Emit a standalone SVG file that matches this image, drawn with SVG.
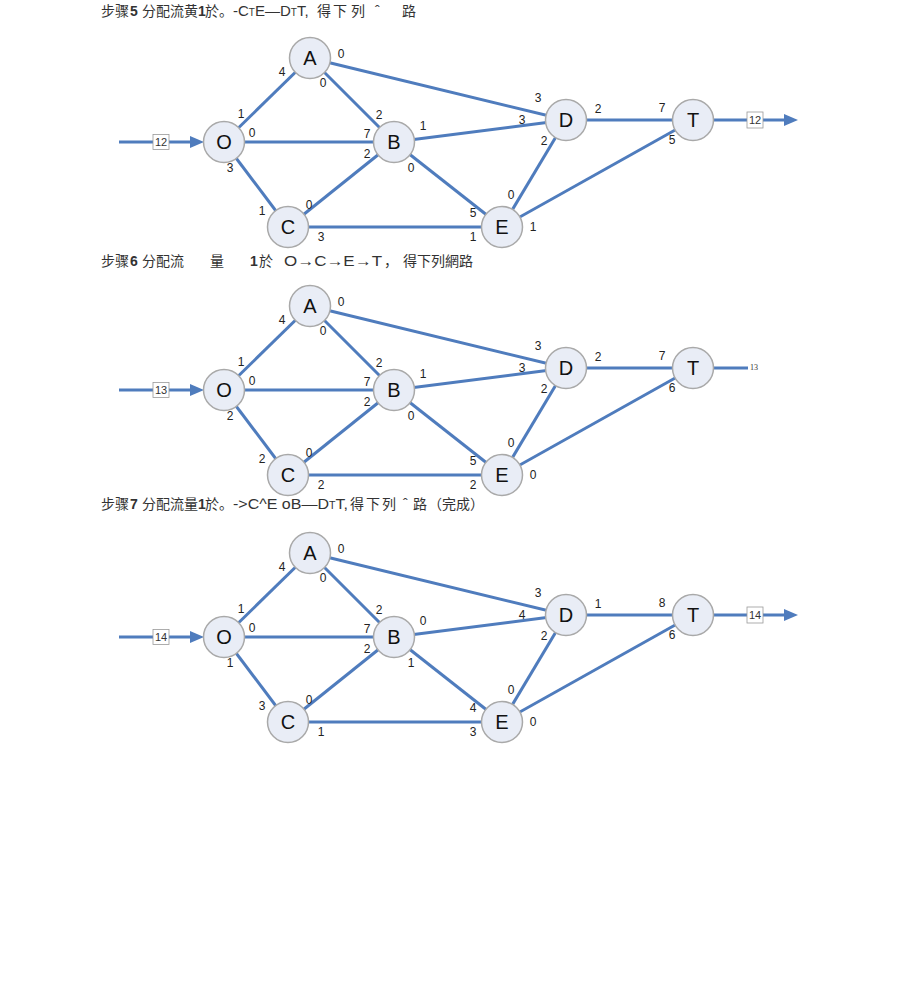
<svg xmlns="http://www.w3.org/2000/svg" width="920" height="997" viewBox="0 0 920 997">
<style>
.bg{fill:#ffffff}
.e{stroke:#4f7cbd;stroke-width:3;fill:none;stroke-linecap:butt}
.n circle{fill:#e9edf6;stroke:#a9a9a9;stroke-width:1.5}
.n text{font-family:"Liberation Sans",Arial,sans-serif;font-size:20px;fill:#111;text-anchor:middle}
.l{font-family:"Liberation Sans",Arial,sans-serif;font-size:12px;fill:#222;text-anchor:middle}
.box{fill:#ffffff;stroke:#9a9a9a;stroke-width:0.8}
.bt{font-family:"Liberation Sans",Arial,sans-serif;font-size:11px;fill:#333;text-anchor:middle}
.ah{fill:#4f7cbd}
.h{font-family:"Noto Sans CJK SC","Noto Sans CJK TC",sans-serif;font-size:14px;fill:#333}
.hb{font-family:"Liberation Sans",Arial,sans-serif;font-weight:bold;font-size:14px}
.hl{font-family:"Liberation Sans",Arial,sans-serif;font-size:15px}
</style>
<rect class="bg" x="0" y="0" width="920" height="997"/>

<!-- headers -->
<text class="h" y="16"><tspan x="101">步骤</tspan><tspan class="hb" x="130">5</tspan><tspan x="142">分配流黄</tspan><tspan class="hb" x="198">1</tspan><tspan x="205">於。</tspan><tspan class="hl" x="233">-C<tspan font-size="10">T</tspan>E—D<tspan font-size="10">T</tspan>T,</tspan><tspan x="317">得</tspan><tspan x="333">下</tspan><tspan x="351">列</tspan><tspan x="375">ˆ</tspan><tspan x="402">路</tspan></text>
<text class="h" y="266"><tspan x="101">步骤</tspan><tspan class="hb" x="130">6</tspan><tspan x="142">分配流</tspan><tspan x="210">量</tspan><tspan class="hb" x="250">1</tspan><tspan x="259">於</tspan><tspan class="hl" x="284" textLength="98" lengthAdjust="spacingAndGlyphs">O→C→E→T</tspan><tspan x="384">，</tspan><tspan x="403">得下列網路</tspan></text>
<text class="h" y="509"><tspan x="101">步骤</tspan><tspan class="hb" x="130">7</tspan><tspan x="142">分配流量</tspan><tspan class="hb" x="198">1</tspan><tspan x="205">於。</tspan><tspan class="hl" x="233" textLength="115" lengthAdjust="spacingAndGlyphs">-&gt;C^E oB—D<tspan font-size="10">T</tspan>T,</tspan><tspan x="350">得</tspan><tspan x="366">下</tspan><tspan x="382">列</tspan><tspan x="403">ˆ</tspan><tspan x="413">路</tspan><tspan x="428">（完成）</tspan></text>

<!-- network 1 -->
<g id="net1">
  <g id="net1-connectors">
    <line class="e" x1="224" y1="142" x2="310" y2="58"/>
    <line class="e" x1="224" y1="142" x2="394" y2="142"/>
    <line class="e" x1="224" y1="142" x2="288" y2="227"/>
    <line class="e" x1="310" y1="58" x2="394" y2="142"/>
    <line class="e" x1="310" y1="58" x2="566" y2="120"/>
    <line class="e" x1="394" y1="142" x2="566" y2="120"/>
    <line class="e" x1="394" y1="142" x2="502" y2="227"/>
    <line class="e" x1="288" y1="227" x2="394" y2="142"/>
    <line class="e" x1="288" y1="227" x2="502" y2="227"/>
    <line class="e" x1="566" y1="120" x2="693" y2="120"/>
    <line class="e" x1="566" y1="120" x2="502" y2="227"/>
    <line class="e" x1="502" y1="227" x2="693" y2="120"/>
    <line class="e" x1="119" y1="142" x2="192" y2="142"/>
    <polygon class="ah" points="190,136 204,142 190,148"/>
    <line class="e" x1="714" y1="120" x2="786" y2="120"/>
    <polygon class="ah" points="784,114 798,120 784,126"/>
  </g>
  <g id="net1-in"><rect class="box" x="153" y="134.5" width="16" height="15"/><text class="bt" x="161" y="146">12</text></g>
  <g id="net1-out"><rect class="box" x="747" y="112" width="16" height="16"/><text class="bt" x="755" y="124">12</text></g>
  <g id="net1-A" class="n"><circle cx="310" cy="58" r="20.5"/><text x="310" y="65">A</text></g>
  <g id="net1-O" class="n"><circle cx="224" cy="142" r="20.5"/><text x="224" y="149">O</text></g>
  <g id="net1-B" class="n"><circle cx="394" cy="142" r="20.5"/><text x="394" y="149">B</text></g>
  <g id="net1-C" class="n"><circle cx="288" cy="227" r="20.5"/><text x="288" y="234">C</text></g>
  <g id="net1-D" class="n"><circle cx="566" cy="120" r="20.5"/><text x="566" y="127">D</text></g>
  <g id="net1-T" class="n"><circle cx="693" cy="120" r="20.5"/><text x="693" y="127">T</text></g>
  <g id="net1-E" class="n"><circle cx="502" cy="227" r="20.5"/><text x="502" y="234">E</text></g>
  <g id="net1-labels" class="l">
    <text class="l" x="341" y="58">0</text>
    <text class="l" x="282" y="76">4</text>
    <text class="l" x="323" y="87">0</text>
    <text class="l" x="241" y="118">1</text>
    <text class="l" x="252" y="137">0</text>
    <text class="l" x="367" y="138">7</text>
    <text class="l" x="379" y="119">2</text>
    <text class="l" x="423" y="130">1</text>
    <text class="l" x="367" y="158">2</text>
    <text class="l" x="411" y="172">0</text>
    <text class="l" x="230" y="172">3</text>
    <text class="l" x="262" y="215">1</text>
    <text class="l" x="309" y="209">0</text>
    <text class="l" x="321" y="241">3</text>
    <text class="l" x="538" y="102">3</text>
    <text class="l" x="522" y="124">3</text>
    <text class="l" x="598" y="113">2</text>
    <text class="l" x="662" y="112">7</text>
    <text class="l" x="544" y="145">2</text>
    <text class="l" x="672" y="144">5</text>
    <text class="l" x="511" y="199">0</text>
    <text class="l" x="473" y="217">5</text>
    <text class="l" x="473" y="241">1</text>
    <text class="l" x="533" y="231">1</text>
  </g>
</g>

<!-- network 2 -->
<g id="net2" transform="translate(0,248)">
  <g id="net2-connectors">
    <line class="e" x1="224" y1="142" x2="310" y2="58"/>
    <line class="e" x1="224" y1="142" x2="394" y2="142"/>
    <line class="e" x1="224" y1="142" x2="288" y2="227"/>
    <line class="e" x1="310" y1="58" x2="394" y2="142"/>
    <line class="e" x1="310" y1="58" x2="566" y2="120"/>
    <line class="e" x1="394" y1="142" x2="566" y2="120"/>
    <line class="e" x1="394" y1="142" x2="502" y2="227"/>
    <line class="e" x1="288" y1="227" x2="394" y2="142"/>
    <line class="e" x1="288" y1="227" x2="502" y2="227"/>
    <line class="e" x1="566" y1="120" x2="693" y2="120"/>
    <line class="e" x1="566" y1="120" x2="502" y2="227"/>
    <line class="e" x1="502" y1="227" x2="693" y2="120"/>
    <line class="e" x1="119" y1="142" x2="192" y2="142"/>
    <polygon class="ah" points="190,136 204,142 190,148"/>
    <line class="e" x1="714" y1="120" x2="748" y2="120"/>
  </g>
  <g id="net2-in"><rect class="box" x="153" y="134.5" width="16" height="15"/><text class="bt" x="161" y="146">13</text></g>
  <g id="net2-out"><text x="750" y="122" font-family="Liberation Serif,serif" font-size="8" fill="#333">13</text></g>
  <g id="net2-A" class="n"><circle cx="310" cy="58" r="20.5"/><text x="310" y="65">A</text></g>
  <g id="net2-O" class="n"><circle cx="224" cy="142" r="20.5"/><text x="224" y="149">O</text></g>
  <g id="net2-B" class="n"><circle cx="394" cy="142" r="20.5"/><text x="394" y="149">B</text></g>
  <g id="net2-C" class="n"><circle cx="288" cy="227" r="20.5"/><text x="288" y="234">C</text></g>
  <g id="net2-D" class="n"><circle cx="566" cy="120" r="20.5"/><text x="566" y="127">D</text></g>
  <g id="net2-T" class="n"><circle cx="693" cy="120" r="20.5"/><text x="693" y="127">T</text></g>
  <g id="net2-E" class="n"><circle cx="502" cy="227" r="20.5"/><text x="502" y="234">E</text></g>
  <g id="net2-labels">
    <text class="l" x="341" y="58">0</text>
    <text class="l" x="282" y="76">4</text>
    <text class="l" x="323" y="87">0</text>
    <text class="l" x="241" y="118">1</text>
    <text class="l" x="252" y="137">0</text>
    <text class="l" x="367" y="138">7</text>
    <text class="l" x="379" y="119">2</text>
    <text class="l" x="423" y="130">1</text>
    <text class="l" x="367" y="158">2</text>
    <text class="l" x="411" y="172">0</text>
    <text class="l" x="230" y="172">2</text>
    <text class="l" x="262" y="215">2</text>
    <text class="l" x="309" y="209">0</text>
    <text class="l" x="321" y="241">2</text>
    <text class="l" x="538" y="102">3</text>
    <text class="l" x="522" y="124">3</text>
    <text class="l" x="598" y="113">2</text>
    <text class="l" x="662" y="112">7</text>
    <text class="l" x="544" y="145">2</text>
    <text class="l" x="672" y="144">6</text>
    <text class="l" x="511" y="199">0</text>
    <text class="l" x="473" y="217">5</text>
    <text class="l" x="473" y="241">2</text>
    <text class="l" x="533" y="231">0</text>
  </g>
</g>

<!-- network 3 -->
<g id="net3" transform="translate(0,495)">
  <g id="net3-connectors">
    <line class="e" x1="224" y1="142" x2="310" y2="58"/>
    <line class="e" x1="224" y1="142" x2="394" y2="142"/>
    <line class="e" x1="224" y1="142" x2="288" y2="227"/>
    <line class="e" x1="310" y1="58" x2="394" y2="142"/>
    <line class="e" x1="310" y1="58" x2="566" y2="120"/>
    <line class="e" x1="394" y1="142" x2="566" y2="120"/>
    <line class="e" x1="394" y1="142" x2="502" y2="227"/>
    <line class="e" x1="288" y1="227" x2="394" y2="142"/>
    <line class="e" x1="288" y1="227" x2="502" y2="227"/>
    <line class="e" x1="566" y1="120" x2="693" y2="120"/>
    <line class="e" x1="566" y1="120" x2="502" y2="227"/>
    <line class="e" x1="502" y1="227" x2="693" y2="120"/>
    <line class="e" x1="119" y1="142" x2="192" y2="142"/>
    <polygon class="ah" points="190,136 204,142 190,148"/>
    <line class="e" x1="714" y1="120" x2="786" y2="120"/>
    <polygon class="ah" points="784,114 798,120 784,126"/>
  </g>
  <g id="net3-in"><rect class="box" x="153" y="134.5" width="16" height="15"/><text class="bt" x="161" y="146">14</text></g>
  <g id="net3-out"><rect class="box" x="747" y="112" width="16" height="16"/><text class="bt" x="755" y="124">14</text></g>
  <g id="net3-A" class="n"><circle cx="310" cy="58" r="20.5"/><text x="310" y="65">A</text></g>
  <g id="net3-O" class="n"><circle cx="224" cy="142" r="20.5"/><text x="224" y="149">O</text></g>
  <g id="net3-B" class="n"><circle cx="394" cy="142" r="20.5"/><text x="394" y="149">B</text></g>
  <g id="net3-C" class="n"><circle cx="288" cy="227" r="20.5"/><text x="288" y="234">C</text></g>
  <g id="net3-D" class="n"><circle cx="566" cy="120" r="20.5"/><text x="566" y="127">D</text></g>
  <g id="net3-T" class="n"><circle cx="693" cy="120" r="20.5"/><text x="693" y="127">T</text></g>
  <g id="net3-E" class="n"><circle cx="502" cy="227" r="20.5"/><text x="502" y="234">E</text></g>
  <g id="net3-labels">
    <text class="l" x="341" y="58">0</text>
    <text class="l" x="282" y="76">4</text>
    <text class="l" x="323" y="87">0</text>
    <text class="l" x="241" y="118">1</text>
    <text class="l" x="252" y="137">0</text>
    <text class="l" x="367" y="138">7</text>
    <text class="l" x="379" y="119">2</text>
    <text class="l" x="423" y="130">0</text>
    <text class="l" x="367" y="158">2</text>
    <text class="l" x="411" y="172">1</text>
    <text class="l" x="230" y="172">1</text>
    <text class="l" x="262" y="215">3</text>
    <text class="l" x="309" y="209">0</text>
    <text class="l" x="321" y="241">1</text>
    <text class="l" x="538" y="102">3</text>
    <text class="l" x="522" y="124">4</text>
    <text class="l" x="598" y="113">1</text>
    <text class="l" x="662" y="112">8</text>
    <text class="l" x="544" y="145">2</text>
    <text class="l" x="672" y="144">6</text>
    <text class="l" x="511" y="199">0</text>
    <text class="l" x="473" y="217">4</text>
    <text class="l" x="473" y="241">3</text>
    <text class="l" x="533" y="231">0</text>
  </g>
</g>
</svg>
